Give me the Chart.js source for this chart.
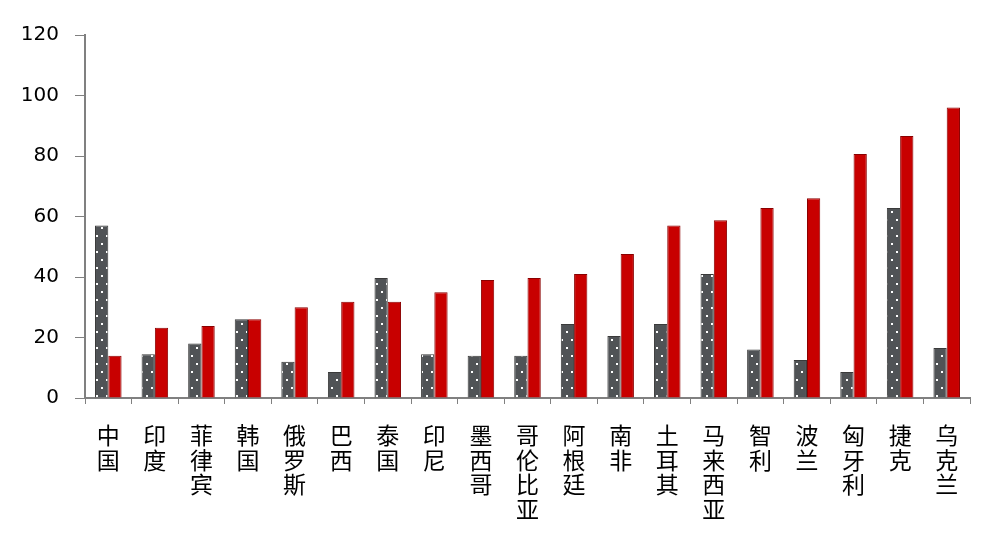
<!DOCTYPE html>
<html>
<head>
<meta charset="utf-8">
<script src="https://cdn.jsdelivr.net/npm/chart.js@4.4.0/dist/chart.umd.min.js"></script>
<style>
  html, body { margin: 0; padding: 0; background: #fff; }
  #wrap { width: 992px; height: 538px; }
</style>
</head>
<body>
<div id="wrap"><canvas id="chart" width="992" height="538"></canvas></div>
<script>
// categories and the two series
const countries = ['中国','印度','菲律宾','韩国','俄罗斯','巴西','泰国','印尼','墨西哥','哥伦比亚','阿根廷','南非','土耳其','马来西亚','智利','波兰','匈牙利','捷克','乌克兰'];
const grayValues = [57, 14.5, 18, 26, 12, 8.6, 39.7, 14.5, 14, 14, 24.5, 20.5, 24.5, 41, 16, 12.6, 8.6, 62.8, 16.5];
const redValues  = [14, 23.2, 23.8, 26, 30, 31.8, 31.8, 35, 39, 39.7, 41, 47.6, 57, 58.8, 62.8, 66, 80.7, 86.6, 96];
const yTicks = [0, 20, 40, 60, 80, 100, 120];

// dotted fill for the gray bars
function dotPattern() {
  const c = document.createElement('canvas');
  c.width = 10; c.height = 16;
  const g = c.getContext('2d');
  g.fillStyle = '#505356';
  g.fillRect(0, 0, 10, 16);
  g.fillStyle = '#ffffff';
  g.fillRect(1, 3, 2, 2);
  g.fillRect(6, 11, 2, 2);
  return g.createPattern(c, 'repeat');
}

const ctx = document.getElementById('chart').getContext('2d');
new Chart(ctx, {
  type: 'bar',
  data: {
    labels: countries.map(n => n.split('')),
    datasets: [
      {
        data: grayValues,
        backgroundColor: dotPattern(),
        borderColor: '#3a3a3a',
        borderWidth: 1,
        categoryPercentage: 0.57,
        barPercentage: 1.0
      },
      {
        data: redValues,
        backgroundColor: '#c80000',
        borderColor: '#8a0000',
        borderWidth: 1,
        categoryPercentage: 0.57,
        barPercentage: 1.0
      }
    ]
  },
  options: {
    responsive: false,
    animation: false,
    layout: { padding: { left: 0, right: 22, top: 35, bottom: 0 } },
    plugins: {
      legend: { display: false },
      tooltip: { enabled: false }
    },
    scales: {
      x: {
        grid: { drawOnChartArea: false, tickLength: 6, color: '#808080', offset: true },
        border: { color: '#808080', width: 2 },
        ticks: {
          color: '#000',
          autoSkip: false,
          maxRotation: 0,
          padding: 19,
          font: { family: '"Noto Sans CJK SC"', size: 23, lineHeight: 1.07 }
        },
        afterFit: s => { s.height = 140; }
      },
      y: {
        min: 0,
        max: 120,
        afterBuildTicks: s => { s.ticks = yTicks.map(v => ({ value: v })); },
        grid: { drawOnChartArea: false, tickLength: 10, color: '#808080' },
        border: { color: '#808080', width: 2 },
        ticks: {
          color: '#000',
          padding: 16,
          font: { family: '"DejaVu Sans"', size: 20 }
        },
        afterFit: s => { s.width = 85; }
      }
    }
  }
});
</script>
</body>
</html>
